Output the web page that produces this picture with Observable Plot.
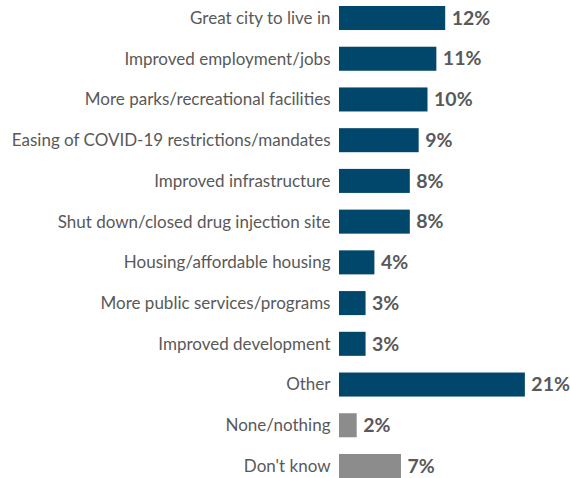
<!DOCTYPE html>
<html>
<head>
<meta charset="utf-8">
<script src="https://cdn.jsdelivr.net/npm/d3@7"></script>
<script src="https://cdn.jsdelivr.net/npm/@observablehq/plot@0.6"></script>
<style>
  html, body { margin: 0; padding: 0; background: #fff; }
</style>
</head>
<body>
<div id="chart"></div>
<script>
const categories = [
  "Great city to live in",
  "Improved employment/jobs",
  "More parks/recreational facilities",
  "Easing of COVID-19 restrictions/mandates",
  "Improved infrastructure",
  "Shut down/closed drug injection site",
  "Housing/affordable housing",
  "More public services/programs",
  "Improved development",
  "Other",
  "None/nothing",
  "Don't know"
];
const values = [12, 11, 10, 9, 8, 8, 4, 3, 3, 21, 2, 7];
const groups = ["main","main","main","main","main","main","main","main","main","main","none","none"];

const data = categories.map((c, i) => ({category: c, value: values[i], group: groups[i]}));

const chart = Plot.plot({
  width: 570,
  height: 478,
  marginTop: 6,
  marginBottom: 0,
  marginLeft: 339,
  marginRight: 0,
  style: {fontFamily: "Lato, sans-serif", background: "#fff"},
  x: {domain: [0, 26.1], axis: null},
  y: {domain: categories, paddingInner: 0.41, paddingOuter: 0, round: false, axis: null},
  color: {domain: ["main", "none"], range: ["#00476b", "#8c8c8c"]},
  marks: [
    Plot.barX(data, {x: "value", y: "category", fill: "group"}),
    Plot.axisY({tickSize: 0, tickPadding: 9, fontSize: 17, fill: "#595959", label: null}),
    Plot.text(data, {x: "value", y: "category", text: d => d.value + "%", textAnchor: "start", dx: 6, fontSize: 19.5, fontWeight: "bold", fill: "#595959"})
  ]
});
document.getElementById("chart").appendChild(chart);
</script>
</body>
</html>
